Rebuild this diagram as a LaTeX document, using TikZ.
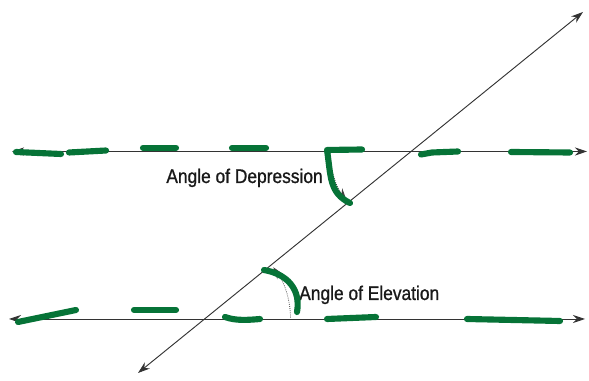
\documentclass[tikz,border=0pt]{standalone}
\usepackage{fontspec}
\newfontfamily\lblfont[FakeStretch=0.88, FakeBold=0.9]{Liberation Sans}
\usetikzlibrary{arrows.meta}
\definecolor{mkgreen}{RGB}{6,115,55}

\begin{document}
\begin{tikzpicture}[x=0.75pt, y=0.75pt, >={Stealth[length=9pt, width=6pt]},
  ln/.style={<->, draw=black!80, line width=0.7pt},
  ang/.style={->, densely dotted, draw=black!75, line width=0.6pt},
  grn/.style={draw=mkgreen, line width=4.6pt, line cap=round, line join=round},
  lbl/.style={font=\lblfont\fontsize{14.8}{17}\selectfont, inner sep=0pt, text=black!90}]
\useasboundingbox (0,0) rectangle (589,381);
% horizontals and the transversal
\coordinate (hl1) at (12,229.5); \coordinate (hr1) at (587,229.5);
\coordinate (hl2) at (9,62);     \coordinate (hr2) at (585,62);
\coordinate (dl)  at (138,8);    \coordinate (dr)  at (583,369);
\draw[ln] (hl1) -- (hr1);
\draw[ln] (hl2) -- (hr2);
\draw[ln] (dl) -- (dr);
\coordinate (top) at (intersection of hl1--hr1 and dl--dr);
\coordinate (bot) at (intersection of hl2--hr2 and dl--dr);
% angles
\draw[ang] (top) ++(181:81) arc[start angle=181, end angle=217, radius=81];
\draw[ang] (bot) ++(1:86) arc[start angle=1, end angle=37, radius=86];
\node[lbl, anchor=base east] (dep)  at (323,198) {Angle of Depression};
\node[lbl, anchor=base west] (elev) at (299,81)  {Angle of Elevation};
% green marker strokes, upper line
\draw[grn] (16,229) -- (61,227);
\draw[grn] (69,228.5) -- (106,230.5);
\draw[grn] (143,233.3) -- (176,233.3);
\draw[grn] (232,233) -- (266,233);
\draw[grn] (362,231.5) -- (327,231) .. controls (331,205) and (329,188) .. (350,178);
\draw[grn] (421,226.5) -- (432,228.5) -- (458,229.5);
\draw[grn] (511,229) -- (570,228.5);
% green marker strokes, lower line
\draw[grn] (18,59) -- (76,71);
\draw[grn] (134,71) -- (176,71);
\draw[grn] (225,64) .. controls (236,60) and (248,61) .. (260,62);
\draw[grn] (327,62) -- (376,64);
\draw[grn] (467,62) -- (560,60);
\draw[grn] (264,111) .. controls (287,107) and (301,92) .. (297,69);
\end{tikzpicture}
\end{document}
